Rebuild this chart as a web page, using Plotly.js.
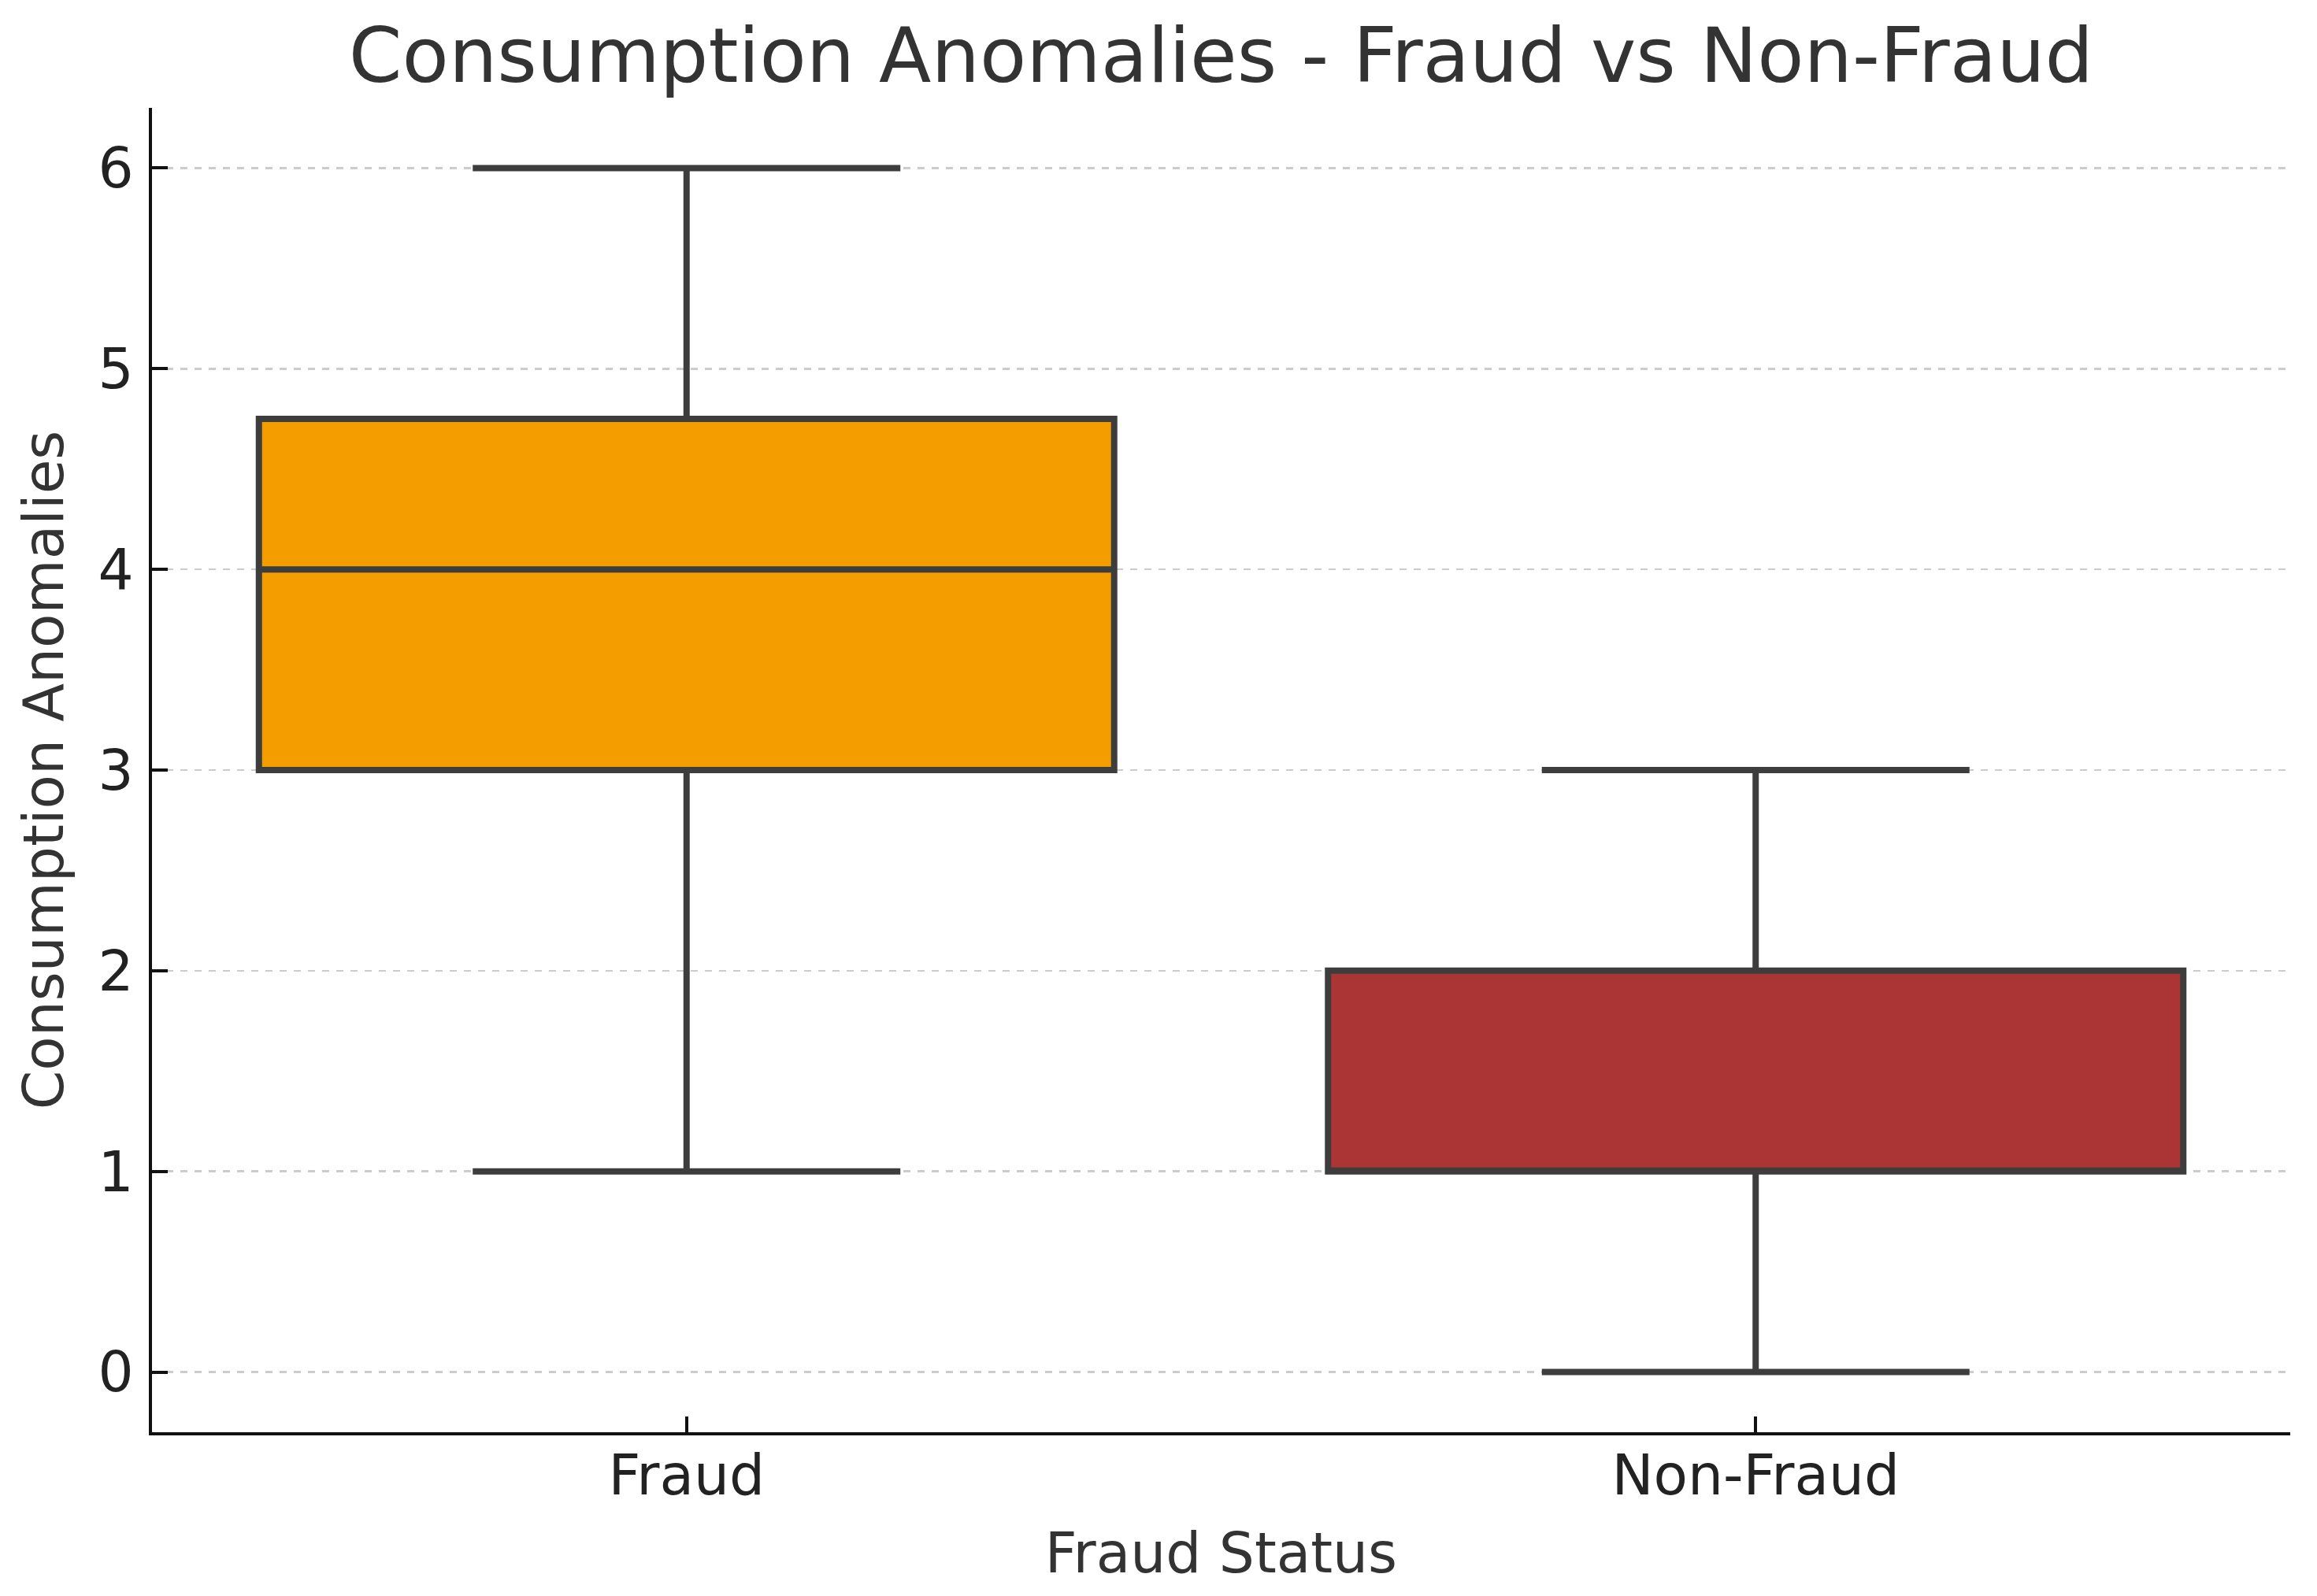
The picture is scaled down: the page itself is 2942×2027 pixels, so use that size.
<!DOCTYPE html>
<html>
<head>
<meta charset="utf-8">
<script src="https://cdn.plot.ly/plotly-3.0.1.min.js"></script>
<style>html,body{margin:0;padding:0;background:#fff;}#chart{width:2942px;height:2027px;}</style>
</head>
<body>
<div id="chart"></div>
<script>
const categories = ["Fraud", "Non-Fraud"];
const lowerFence = [1, 0];
const q1 = [3, 1];
const median = [4, 1];
const q3 = [4.75, 2];
const upperFence = [6, 3];
const fillColors = ["#f49d00", "#ab3535"];
const yTicks = [0, 1, 2, 3, 4, 5, 6];

const traces = categories.map((c, i) => ({
  type: "box",
  x: [c],
  q1: [q1[i]],
  median: [median[i]],
  q3: [q3[i]],
  lowerfence: [lowerFence[i]],
  upperfence: [upperFence[i]],
  width: 0.8,
  whiskerwidth: 0.5,
  fillcolor: fillColors[i],
  line: {color: "#3d3d3d", width: 8},
  boxpoints: false,
  hoverinfo: "skip",
  showlegend: false
}));

const layout = {
  width: 2942, height: 2027,
  margin: {l: 193, r: 34, t: 137, b: 208},
  paper_bgcolor: "#ffffff", plot_bgcolor: "#ffffff",
  font: {family: "DejaVu Sans", color: "#222222"},
  title: {
    text: "Consumption Anomalies - Fraud vs Non-Fraud",
    font: {family: "DejaVu Sans", size: 97, color: "#333333"},
    x: 0.5, xref: "paper", xanchor: "center",
    y: 1 - 70/2027, yref: "container", yanchor: "middle"
  },
  xaxis: {
    type: "category",
    categoryarray: categories,
    range: [-0.5, 1.5],
    showgrid: false, zeroline: false,
    showline: true, linecolor: "#111111", linewidth: 4,
    ticks: "inside", ticklen: 20, tickwidth: 4, tickcolor: "#111111",
    ticklabelstandoff: -10,
    tickfont: {family: "DejaVu Sans", size: 71, color: "#222222"},
    title: {text: "Fraud Status", font: {family: "DejaVu Sans", size: 71, color: "#333333"}, standoff: 34},
    automargin: false
  },
  yaxis: {
    range: [-0.3, 6.3],
    tickvals: yTicks,
    ticktext: yTicks.map(String),
    showgrid: true, gridcolor: "#cccccc", gridwidth: 2.5, griddash: "dash",
    zeroline: false,
    showline: true, linecolor: "#111111", linewidth: 4,
    ticks: "inside", ticklen: 20, tickwidth: 4, tickcolor: "#111111",
    ticklabelstandoff: 5,
    tickfont: {family: "DejaVu Sans", size: 71, color: "#222222"},
    title: {text: "Consumption Anomalies", font: {family: "DejaVu Sans", size: 71, color: "#333333"}, standoff: 22},
    automargin: false
  }
};

Plotly.newPlot("chart", traces, layout, {displayModeBar: false, staticPlot: true});
</script>
</body>
</html>
